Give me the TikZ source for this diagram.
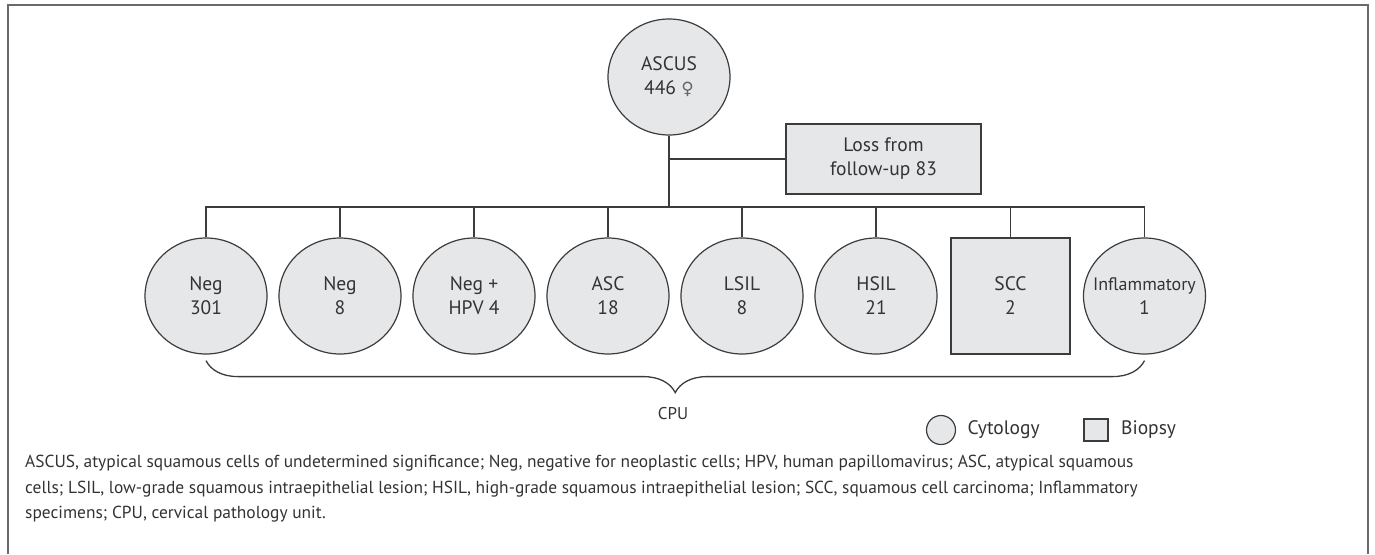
\documentclass[tikz,border=0pt]{standalone}
\usepackage{fontspec}
\setmainfont{PT Sans}
\newfontfamily\symfont{DejaVu Sans}
\usetikzlibrary{shapes.geometric,positioning,decorations.pathreplacing}
\definecolor{boxgray}{HTML}{E6E7E8}
\definecolor{linegray}{HTML}{3C3C3C}
\definecolor{framegray}{HTML}{6A6A6A}

\begin{document}
\begin{tikzpicture}[x=1pt,y=-1pt]
    \tikzstyle{every node} = [font=\fontsize{19.5}{24}\selectfont, text=black!80]
    \tikzstyle{cyto} = [draw=linegray, ellipse, fill=boxgray, line width=1.2pt, minimum width=122pt, minimum height=116pt, inner sep=0pt, align=center]
    \tikzstyle{biopsy} = [draw=linegray, rectangle, fill=boxgray, line width=1.2pt, minimum width=119pt, minimum height=116pt, align=center]
    \tikzstyle{link} = [draw=linegray, line width=1.3pt]
    \useasboundingbox (0,0) rectangle (1375,554);
    \draw[framegray, line width=2pt] (8,554) -- (8,5) -- (1368,5) -- (1368,554);
    % place nodes
    \node[cyto](ascus) at (669,77){ASCUS\\446 {\symfont\fontsize{17}{24}\selectfont\color{black!60}♀}};
    \node[draw=linegray, fill=boxgray, line width=1.2pt, minimum width=195pt, minimum height=70pt, align=center](loss) at (883.5,159){Loss from\\follow-up 83};
    \coordinate (bus) at (669,207);
    \node[cyto](neg) at (206,296){Neg\\301};
    \node[cyto,right of=neg,node distance=134pt](negb){Neg\\8};
    \node[cyto,right of=negb,node distance=134pt](neghpv){Neg +\\HPV 4};
    \node[cyto,right of=neghpv,node distance=134pt](asc){ASC\\18};
    \node[cyto,right of=asc,node distance=134pt](lsil){LSIL\\8};
    \node[cyto,right of=lsil,node distance=134pt](hsil){HSIL\\21};
    \node[biopsy,right of=hsil,node distance=134.5pt](scc){SCC\\2};
    \node[cyto,right of=scc,node distance=134pt](infl){\makebox[0pt]{\fontsize{18}{24}\selectfont Inflammatory}\\1};

    % Connections
    \draw[link] (ascus.south) -- (bus);
    \draw[link] (loss.west) -- (loss.west -| ascus.south);
    \draw[link] (neg.north) -- (neg.north |- bus) -| (infl.north);
    \foreach \n in {negb,neghpv,asc,lsil,hsil,scc}
        \draw[link] (\n.north) -- (\n.north |- bus);
    \draw[link, decorate, decoration={brace, mirror, amplitude=32pt}]
    ([yshift=-6pt]neg.south) -- ([yshift=-6pt]infl.south);
    \node[font=\fontsize{17}{20}\selectfont](cpu) at (673,414){CPU};

    % legend
    \node[draw=linegray, circle, fill=boxgray, line width=1.2pt, minimum size=29pt, inner sep=0pt](legcyto) at (941,430){};
    \node[right=8pt of legcyto](cytotext){Cytology};
    \node[draw=linegray, rectangle, fill=boxgray, line width=1.2pt, minimum width=24pt, minimum height=22pt, inner sep=0pt](legbiopsy) at (1096,430){};
    \node[right=9pt of legbiopsy](biopsytext){Biopsy};

    \node[anchor=north west, align=left, inner sep=0pt, font=\fontsize{17.4}{25.5}\selectfont](caption) at (25,455){%
    ASCUS, atypical squamous cells of undetermined significance; Neg, negative for neoplastic cells; HPV, human papillomavirus; ASC, atypical squamous\\
    cells; LSIL, low-grade squamous intraepithelial lesion; HSIL, high-grade squamous intraepithelial lesion; SCC, squamous cell carcinoma; Inflammatory\\
    specimens; CPU, cervical pathology unit.};
\end{tikzpicture}
\end{document}
